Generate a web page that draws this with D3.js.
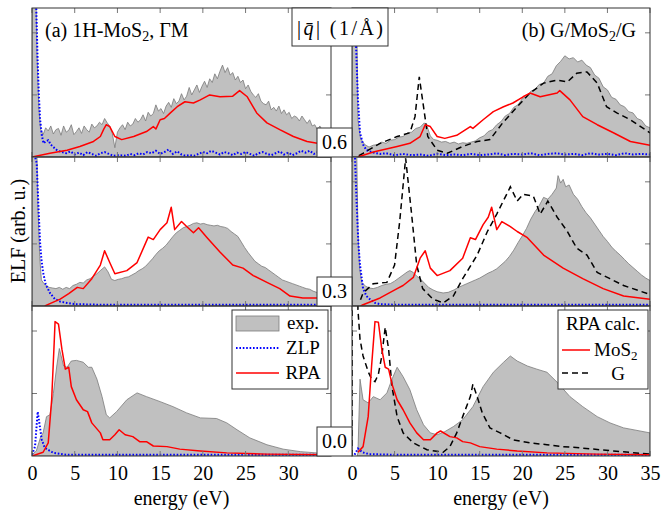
<!DOCTYPE html>
<html>
<head>
<meta charset="utf-8">
<script src="https://cdn.jsdelivr.net/npm/d3@7"></script>
<style>
  body { margin: 0; background: #fff; }
  svg text { font-family: "Liberation Serif", "Times New Roman", serif; }
</style>
</head>
<body>
<svg id="chart" width="663" height="513"></svg>
<script>
// ELF spectra, [energy (eV), ELF (arb. u.)]
// (a) 1H-MoS2 column
const expA06 = [[0,3],[0.4,3],[0.6,1.6],[0.8,0.8],[1.0,0.45],[1.3,0.36],[1.6,0.47],[1.9,0.42],[2.2,0.5],[2.5,0.37],[2.8,0.44],[3.1,0.46],[3.4,0.35],[3.7,0.5],[4.0,0.4],[4.3,0.43],[4.6,0.52],[4.9,0.36],[5.2,0.41],[5.5,0.47],[5.8,0.38],[6.1,0.5],[6.4,0.44],[6.7,0.4],[7.0,0.53],[7.3,0.47],[7.6,0.5],[7.9,0.56],[8.2,0.52],[8.5,0.62],[8.8,0.55],[9.1,0.5],[9.4,0.38],[9.7,0.15],[10.0,0.4],[10.3,0.47],[10.6,0.52],[10.9,0.44],[11.2,0.56],[11.5,0.5],[11.8,0.53],[12.1,0.62],[12.4,0.56],[12.7,0.6],[13.0,0.68],[13.3,0.58],[13.6,0.72],[13.9,0.66],[14.2,0.7],[14.5,0.84],[14.8,0.74],[15.1,0.78],[15.4,0.7],[15.7,0.82],[16.0,0.88],[16.3,0.8],[16.6,0.94],[16.9,0.86],[17.2,0.9],[17.5,1.02],[17.8,0.92],[18.1,0.98],[18.4,1.12],[18.7,1.0],[19.0,1.08],[19.3,1.16],[19.6,1.04],[19.9,1.14],[20.2,1.22],[20.5,1.12],[20.8,1.26],[21.1,1.2],[21.4,1.34],[21.7,1.26],[22.0,1.38],[22.3,1.48],[22.6,1.36],[22.9,1.44],[23.2,1.32],[23.5,1.36],[23.8,1.24],[24.1,1.3],[24.4,1.2],[24.7,1.24],[25.0,1.1],[25.3,1.16],[25.6,1.06],[25.9,1.0],[26.2,0.96],[26.5,1.02],[26.8,0.9],[27.1,0.86],[27.4,0.84],[27.7,0.9],[28.0,0.76],[28.3,0.8],[28.6,0.74],[28.9,0.82],[29.2,0.7],[29.5,0.76],[29.8,0.68],[30.1,0.72],[30.4,0.62],[30.7,0.66],[31.0,0.64],[31.3,0.58],[31.6,0.66],[31.9,0.6],[32.2,0.54],[32.5,0.6],[32.8,0.5],[33.1,0.52],[33.4,0.44],[33.7,0.5],[34.0,0.42],[34.3,0.46],[34.6,0.4],[35,0.44]]
const zlpA06 = [[0,2.6],[0.5,2.4],[0.65,1.6],[0.8,1.0],[0.95,0.6],[1.15,0.35],[1.35,0.22],[1.6,0.25],[1.9,0.27],[2.2,0.2],[2.5,0.16],[3.0,0.1],[3.5,0.08],[4.0,0.06],[4.5,0.09],[5.0,0.04],[5.5,0.07],[6.0,0.03],[6.5,0.08],[7.0,0.05],[7.5,0.02],[8.0,0.06],[8.5,0.08],[9.0,0.05],[9.5,0.02],[10,0.03],[11,0.02],[11.5,0.05],[12,0.03],[12.5,0.06],[13,0.04],[13.5,0.08],[14,0.06],[14.5,0.1],[15,0.05],[15.5,0.08],[16,0.12],[16.5,0.05],[17,0.09],[17.5,0.04],[18,0.02],[18.5,0.03],[19,0.02],[19.5,0.05],[20,0.08],[20.5,0.06],[21,0.1],[21.5,0.07],[22,0.04],[22.5,0.08],[23,0.06],[23.5,0.03],[24,0.07],[24.5,0.05],[25,0.08],[25.5,0.05],[26,0.02],[26.5,0.06],[27,0.08],[27.5,0.05],[28,0.03],[28.5,0.06],[29,0.09],[29.5,0.04],[30,0.07],[30.5,0.03],[31,0.06],[31.5,0.1],[32,0.07],[32.5,0.1],[33,0.05],[33.5,0.08],[34,0.1],[34.5,0.06],[35,0.05]]
const rpaA06 = [[0,0],[2.1,0.06],[4.1,0.11],[5.6,0.17],[7.2,0.25],[8.0,0.33],[8.4,0.45],[8.7,0.52],[9.1,0.49],[9.7,0.33],[10.5,0.28],[11.9,0.33],[13.4,0.41],[14.2,0.49],[14.5,0.45],[15.0,0.6],[15.5,0.62],[16.2,0.71],[17.0,0.81],[17.9,0.89],[18.9,0.87],[19.7,0.92],[20.8,1.0],[22.0,0.97],[23.5,0.98],[24.3,1.07],[25.2,0.97],[26.3,0.71],[27.5,0.55],[29.0,0.44],[30.6,0.33],[32.2,0.25],[33.4,0.22],[35,0.2]]
const expA03 = [[0,3],[0.5,3],[0.7,1.6],[0.9,0.8],[1.1,0.42],[1.4,0.36],[1.7,0.33],[2.0,0.3],[2.4,0.29],[2.8,0.28],[3.2,0.3],[3.6,0.27],[4.0,0.3],[4.4,0.28],[4.8,0.33],[5.2,0.35],[5.6,0.38],[6.0,0.37],[6.4,0.42],[6.8,0.44],[7.2,0.48],[7.6,0.52],[8.0,0.57],[8.5,0.63],[8.9,0.55],[9.3,0.43],[9.7,0.41],[10.1,0.43],[10.5,0.44],[10.9,0.46],[11.3,0.47],[11.7,0.5],[12.1,0.53],[12.5,0.57],[12.9,0.6],[13.3,0.64],[13.7,0.7],[14.1,0.76],[14.5,0.83],[14.9,0.89],[15.3,0.93],[15.7,0.98],[16.1,1.05],[16.5,1.12],[16.9,1.18],[17.3,1.22],[17.7,1.26],[18.1,1.28],[18.5,1.3],[18.9,1.33],[19.3,1.34],[19.7,1.32],[20.1,1.33],[20.5,1.31],[20.9,1.3],[21.3,1.29],[21.7,1.3],[22.1,1.28],[22.5,1.27],[22.9,1.25],[23.3,1.2],[23.7,1.16],[24.1,1.12],[24.5,1.03],[24.9,0.94],[25.3,0.86],[25.7,0.79],[26.1,0.72],[26.5,0.68],[26.9,0.64],[27.3,0.62],[27.7,0.58],[28.1,0.54],[28.5,0.5],[28.9,0.46],[29.3,0.42],[29.7,0.4],[30.1,0.38],[30.5,0.36],[30.9,0.34],[31.3,0.32],[31.7,0.3],[32.1,0.28],[32.5,0.27],[32.9,0.24],[33.3,0.22],[33.7,0.2],[34.1,0.2],[34.5,0.18],[35,0.18]]
const zlpA03 = [[0,2.6],[0.55,2.3],[0.74,1.64],[0.94,1.03],[1.1,0.75],[1.3,0.54],[1.6,0.35],[2.1,0.21],[2.7,0.11],[3.3,0.07],[4.1,0.05],[5,0.03],[8,0.02],[15,0.02],[35,0.02]]
const rpaA03 = [[1.5,0],[2.3,0.05],[3.3,0.11],[4.3,0.2],[5.3,0.3],[6.0,0.28],[7.0,0.44],[8.0,0.66],[8.5,0.89],[9.1,0.7],[9.7,0.52],[11.1,0.57],[12.3,0.7],[13.6,1.11],[14.2,1.07],[15.0,1.23],[15.8,1.34],[16.3,1.59],[16.7,1.23],[17.5,1.36],[18.1,1.28],[18.9,1.18],[19.5,1.26],[20.5,1.1],[22.0,0.87],[23.5,0.66],[24.7,0.61],[25.9,0.49],[27.5,0.38],[29.0,0.28],[30.2,0.16],[31.7,0.13],[35,0.13]]
const expA00 = [[0,0.02],[0.5,0.08],[1.0,0.3],[1.3,0.37],[1.7,0.63],[2.1,0.66],[2.5,1.0],[2.9,1.44],[3.2,1.72],[3.7,1.44],[4.1,1.42],[4.6,1.52],[5.2,1.53],[6.0,1.5],[6.6,1.42],[7.0,1.42],[7.6,1.23],[8.2,0.95],[8.7,0.66],[9.1,0.61],[9.9,0.71],[11.1,0.9],[12.3,1.01],[13.4,0.95],[15.0,0.87],[16.5,0.79],[18.1,0.69],[19.7,0.61],[21.6,0.6],[22.8,0.53],[24.0,0.42],[25.5,0.29],[27.5,0.18],[29.4,0.11],[31.4,0.07],[33.3,0.05],[35,0.04]]
const zlpA00 = [[0,0.02],[0.35,0.15],[0.67,0.71],[0.86,0.53],[1.14,0.26],[1.5,0.13],[2.5,0.05],[4,0.02],[35,0.02]]
const rpaA00 = [[0,0],[1.3,0.06],[1.9,0.21],[2.3,0.9],[2.6,1.82],[2.7,2.15],[3.1,2.11],[3.5,1.71],[3.9,1.39],[4.3,1.42],[4.6,1.11],[5.2,0.9],[6.0,0.74],[6.5,0.71],[7.0,0.53],[8.0,0.37],[8.3,0.26],[9.1,0.26],[9.7,0.34],[10.2,0.42],[10.9,0.34],[11.8,0.31],[12.6,0.23],[13.4,0.23],[14.2,0.16],[15.8,0.15],[17.3,0.11],[19.7,0.08],[22.8,0.05],[27.5,0.03],[35,0.02]]

// (b) G/MoS2/G column
const expB06 = [[0,0],[0.1,3],[0.5,3],[0.7,0.6],[1.0,0.3],[1.5,0.2],[2.0,0.16],[2.5,0.19],[3.0,0.2],[3.5,0.24],[4.0,0.22],[4.5,0.27],[5.0,0.28],[5.5,0.32],[6.0,0.33],[6.5,0.39],[7.0,0.4],[7.5,0.46],[8.0,0.48],[8.5,0.55],[8.8,0.5],[9.2,0.34],[9.6,0.28],[10.0,0.27],[10.5,0.24],[11.0,0.25],[11.5,0.22],[12.0,0.24],[12.5,0.21],[13.0,0.23],[13.5,0.22],[14.0,0.24],[14.5,0.26],[15.0,0.31],[15.5,0.34],[16.0,0.41],[16.5,0.44],[17.0,0.52],[17.5,0.57],[18.0,0.66],[18.5,0.7],[19.0,0.8],[19.5,0.84],[20.0,0.94],[20.5,0.97],[21.0,1.06],[21.5,1.09],[22.0,1.17],[22.5,1.19],[23.0,1.3],[23.5,1.34],[24.0,1.47],[24.5,1.54],[25.0,1.63],[25.5,1.58],[26.0,1.6],[26.5,1.53],[27.0,1.56],[27.5,1.48],[28.0,1.44],[28.5,1.32],[29.0,1.27],[29.5,1.13],[30.0,1.08],[30.5,0.96],[31.0,0.93],[31.5,0.84],[32.0,0.81],[32.5,0.73],[33.0,0.71],[33.5,0.62],[34.0,0.59],[34.5,0.5],[35,0.47]]
const zlpB06 = [[0,2.6],[0.35,2.3],[0.55,1.5],[0.7,0.92],[0.94,0.39],[1.3,0.2],[1.7,0.11],[2.5,0.07],[3.3,0.05],[4,0.06],[5,0.03],[6,0.05],[7,0.03],[8,0.04],[9,0.02],[10,0.05],[11,0.03],[12,0.04],[13,0.03],[14,0.05],[15,0.03],[16,0.04],[17,0.06],[18,0.03],[19,0.05],[20,0.04],[21,0.06],[22,0.03],[23,0.05],[24,0.06],[25,0.04],[26,0.05],[27,0.03],[28,0.06],[29,0.04],[30,0.05],[31,0.03],[32,0.06],[33,0.04],[34,0.05],[35,0.04]]
const rpaB06 = [[0.7,0],[2.5,0.08],[5.3,0.17],[6.8,0.22],[8.0,0.33],[8.6,0.52],[9.2,0.49],[10.0,0.33],[10.9,0.3],[12.3,0.35],[13.9,0.49],[14.2,0.46],[15.4,0.6],[16.6,0.73],[17.8,0.81],[18.9,0.87],[20.1,0.97],[20.9,1.03],[22.1,0.97],[24.1,1.03],[24.4,1.07],[25.6,0.92],[27.1,0.65],[28.8,0.52],[30.7,0.39],[32.7,0.25],[35,0.19]]
const gB06 = [[0.8,0.02],[1.3,0.06],[3.3,0.22],[5.3,0.33],[6.8,0.39],[7.4,0.65],[7.9,1.29],[8.4,0.81],[8.9,0.33],[10.0,0.11],[11.2,0.06],[13.0,0.17],[14.7,0.25],[16.2,0.28],[17.7,0.55],[19.4,0.81],[20.9,1.03],[22.5,1.19],[24.1,1.24],[25.3,1.21],[26.4,1.35],[27.6,1.37],[28.8,1.19],[29.9,0.81],[31.1,0.71],[32.7,0.6],[35,0.39]]
const expB03 = [[0,0],[0.1,3],[0.5,3],[0.7,1.2],[0.9,0.6],[1.14,0.38],[1.6,0.32],[2.0,0.29],[2.5,0.28],[3.0,0.3],[3.5,0.33],[4.0,0.35],[4.5,0.36],[5.0,0.4],[5.5,0.45],[6.0,0.5],[6.5,0.55],[6.8,0.57],[7.2,0.54],[7.6,0.48],[8.0,0.44],[8.5,0.37],[9.0,0.3],[9.5,0.26],[10.0,0.23],[10.7,0.21],[11.3,0.22],[12.0,0.26],[12.5,0.3],[13.0,0.33],[13.5,0.36],[14.0,0.39],[14.5,0.42],[15.0,0.45],[15.5,0.49],[16.0,0.53],[16.5,0.56],[17.0,0.6],[17.5,0.66],[18.0,0.72],[18.5,0.8],[19.0,0.9],[19.5,1.02],[20.0,1.13],[20.5,1.25],[21.0,1.4],[21.5,1.52],[22.0,1.62],[22.5,1.75],[23.0,1.72],[23.5,1.8],[24.0,1.9],[24.2,2.1],[24.5,1.98],[24.8,2.04],[25.1,1.92],[25.5,1.95],[26.0,1.8],[26.5,1.72],[27.0,1.6],[27.5,1.5],[28.0,1.42],[28.5,1.32],[29.0,1.22],[29.5,1.12],[30.0,1.04],[30.5,0.95],[31.0,0.88],[31.5,0.82],[32.0,0.75],[32.5,0.68],[33.0,0.62],[33.5,0.56],[34.0,0.5],[34.5,0.45],[35,0.41]]
const zlpB03 = [[0,2.6],[0.35,2.4],[0.55,1.64],[0.75,1.0],[0.94,0.66],[1.3,0.28],[1.7,0.16],[2.1,0.11],[2.7,0.05],[3.3,0.03],[5,0.02],[35,0.02]]
const rpaB03 = [[1.0,0],[1.3,0.02],[3.3,0.13],[5.3,0.28],[6.0,0.33],[7.2,0.46],[8.0,0.77],[8.6,0.89],[9.2,0.61],[10.0,0.49],[11.5,0.57],[13.0,0.77],[13.9,1.1],[14.5,1.07],[15.4,1.31],[16.0,1.43],[16.4,1.59],[17.0,1.23],[17.6,1.36],[18.6,1.28],[19.4,1.2],[20.6,1.1],[22.5,0.82],[24.8,0.61],[27.1,0.44],[29.5,0.28],[31.9,0.16],[35,0.11]]
const gB03 = [[1.0,0.1],[1.3,0.21],[2.5,0.36],[4.1,0.38],[5.0,0.66],[5.6,1.36],[6.3,2.38],[7.0,1.48],[7.6,0.66],[8.3,0.28],[9.5,0.11],[10.7,0.05],[11.9,0.16],[13.0,0.44],[14.7,0.82],[15.9,1.2],[17.0,1.48],[18.6,1.92],[19.4,1.69],[20.1,1.8],[21.3,1.77],[22.1,1.48],[23.0,1.69],[24.1,1.43],[25.3,1.2],[26.4,0.93],[27.6,0.82],[28.8,0.54],[30.3,0.44],[31.9,0.33],[34.7,0.2],[35,0.19]]
const expB00 = [[0.6,0],[0.7,0.05],[0.94,1.23],[1.3,0.9],[1.9,0.85],[2.5,0.95],[3.3,0.9],[4.1,1.01],[4.7,1.23],[5.3,1.42],[6.0,1.27],[6.8,1.06],[7.6,0.74],[8.4,0.5],[9.2,0.37],[10.0,0.34],[10.9,0.39],[11.9,0.47],[13.0,0.58],[14.2,0.79],[15.4,1.11],[16.6,1.34],[17.8,1.5],[18.6,1.6],[19.4,1.52],[20.6,1.44],[21.7,1.39],[22.9,1.34],[24.1,1.18],[25.6,0.95],[27.1,0.79],[28.8,0.63],[30.3,0.53],[31.9,0.45],[35,0.37]]
const zlpB00 = [[0.3,0.02],[0.7,0.12],[1.2,0.06],[2,0.03],[5,0.02],[35,0.02]]
const rpaB00 = [[0.7,0.06],[1.3,0.15],[1.9,0.63],[2.3,1.44],[2.7,2.15],[3.1,2.14],[3.5,1.71],[3.9,1.42],[4.3,1.39],[4.7,1.15],[5.3,0.9],[6.0,0.74],[6.8,0.53],[7.6,0.37],[8.4,0.26],[9.2,0.26],[10.0,0.37],[10.4,0.4],[11.5,0.31],[12.3,0.29],[13.0,0.23],[13.9,0.21],[15.0,0.15],[17.0,0.11],[19.4,0.08],[22.9,0.05],[28.8,0.03],[35,0.02]]
const gB00 = [[0,0],[0.05,6],[0.3,6],[0.7,2.34],[0.94,1.87],[1.3,1.6],[1.9,1.35],[2.3,1.23],[2.7,1.19],[3.1,1.31],[3.5,1.6],[3.9,2.06],[4.3,1.71],[4.7,1.11],[5.3,0.63],[6.0,0.37],[7.2,0.21],[8.8,0.1],[10.7,0.06],[11.5,0.15],[12.3,0.37],[13.0,0.63],[13.9,0.95],[14.2,1.15],[14.7,0.95],[15.3,0.69],[16.2,0.45],[17.4,0.37],[18.9,0.26],[20.9,0.21],[22.9,0.18],[24.8,0.15],[26.8,0.13],[30.7,0.08],[35,0.03]]

const energyTicks = [0, 5, 10, 15, 20, 25, 30, 35]
const elfTicks = [1, 2]
const qLabels = ["0.6", "0.3", "0.0"]

const panels = [
  {col: 0, row: 0, exp: expA06, zlp: zlpA06, rpa: rpaA06},
  {col: 0, row: 1, exp: expA03, zlp: zlpA03, rpa: rpaA03},
  {col: 0, row: 2, exp: expA00, zlp: zlpA00, rpa: rpaA00},
  {col: 1, row: 0, exp: expB06, zlp: zlpB06, rpa: rpaB06, g: gB06},
  {col: 1, row: 1, exp: expB03, zlp: zlpB03, rpa: rpaB03, g: gB03},
  {col: 1, row: 2, exp: expB00, zlp: zlpB00, rpa: rpaB00, g: gB00}
]

const cols = [{x0: 32, x1: 331}, {x0: 352, x1: 650}]
const rows = [{y0: 8, y1: 157}, {y0: 157, y1: 306}, {y0: 306, y1: 456}]
const frameColor = "#333"
const tickColor = "#777"
const expFill = "#c0c0c0", expStroke = "#7a7a7a"
const fs = 20      // axis labels, titles
const fsLeg = 19   // legends

const svg = d3.select("#chart")
const defs = svg.append("defs")

const xScales = cols.map(c => d3.scaleLinear().domain([0, 35]).range([c.x0, c.x1]))
const yScales = rows.map(r => d3.scaleLinear().domain([0, 2.4]).range([r.y1, r.y0]))

panels.forEach((p, i) => {
  const x = xScales[p.col], y = yScales[p.row]
  const c = cols[p.col], r = rows[p.row]
  defs.append("clipPath").attr("id", "clip" + i)
    .append("rect").attr("x", c.x0).attr("y", r.y0).attr("width", c.x1 - c.x0).attr("height", r.y1 - r.y0)

  const g = svg.append("g").attr("clip-path", `url(#clip${i})`)
  const area = d3.area().x(d => x(d[0])).y0(y(0)).y1(d => y(d[1]))
  const line = d3.line().x(d => x(d[0])).y(d => y(d[1]))

  g.append("path").datum(p.exp).attr("d", area)
    .attr("fill", expFill).attr("stroke", expStroke).attr("stroke-width", 0.8)
  g.append("path").datum(p.zlp).attr("d", line)
    .attr("fill", "none").attr("stroke", "#0000ff").attr("stroke-width", 2)
    .attr("stroke-dasharray", "1.6,1.8")
  if (p.g) g.append("path").datum(p.g).attr("d", line)
    .attr("fill", "none").attr("stroke", "#000").attr("stroke-width", 1.5)
    .attr("stroke-dasharray", "6,4")
  g.append("path").datum(p.rpa).attr("d", line)
    .attr("fill", "none").attr("stroke", "#ff0000").attr("stroke-width", 1.5)
    .attr("stroke-linejoin", "round")

  // inward ticks on all four sides
  const t = svg.append("g").attr("stroke", tickColor).attr("stroke-width", 1)
  energyTicks.forEach(e => {
    t.append("line").attr("x1", x(e)).attr("x2", x(e)).attr("y1", r.y1).attr("y2", r.y1 - 5)
    t.append("line").attr("x1", x(e)).attr("x2", x(e)).attr("y1", r.y0).attr("y2", r.y0 + 5)
  })
  elfTicks.forEach(v => {
    t.append("line").attr("x1", c.x0).attr("x2", c.x0 + 5).attr("y1", y(v)).attr("y2", y(v))
    t.append("line").attr("x1", c.x1).attr("x2", c.x1 - 5).attr("y1", y(v)).attr("y2", y(v))
  })

  svg.append("rect").attr("x", c.x0).attr("y", r.y0).attr("width", c.x1 - c.x0).attr("height", r.y1 - r.y0)
    .attr("fill", "none").attr("stroke", frameColor).attr("stroke-width", 1)
})

// bottom axes
xScales.forEach((x, ci) => {
  const ticks = ci === 0 ? energyTicks.slice(0, -1) : energyTicks
  svg.append("g").attr("transform", `translate(0,${rows[2].y1})`)
    .call(d3.axisBottom(x).tickValues(ticks).tickSize(0).tickPadding(10).tickFormat(d3.format("d")))
    .call(g => g.select(".domain").remove())
    .call(g => g.selectAll("text").attr("font-size", fs).attr("fill", "#000"))
  const c = cols[ci]
  svg.append("text").attr("x", (c.x0 + c.x1) / 2).attr("y", 505).attr("text-anchor", "middle")
    .attr("font-size", fs).text("energy (eV)")
})

// y label
svg.append("text").attr("transform", "translate(25,231) rotate(-90)").attr("text-anchor", "middle")
  .attr("font-size", fs).text("ELF (arb. u.)")

// panel titles
const ta = svg.append("text").attr("x", 45).attr("y", 37).attr("font-size", fs)
ta.append("tspan").text("(a) 1H-MoS")
ta.append("tspan").attr("dy", 4).attr("font-size", 14).text("2")
ta.append("tspan").attr("dy", -4).text(", ΓM")
const tb = svg.append("text").attr("x", 636).attr("y", 37).attr("font-size", fs).attr("text-anchor", "end")
tb.append("tspan").text("(b) G/MoS")
tb.append("tspan").attr("dy", 4).attr("font-size", 14).text("2")
tb.append("tspan").attr("dy", -4).text("/G")

// q box
svg.append("rect").attr("x", 292).attr("y", 8).attr("width", 96).attr("height", 38)
  .attr("fill", "#fff").attr("stroke", frameColor)
const tq = svg.append("text").attr("x", 340).attr("y", 35).attr("font-size", fs).attr("text-anchor", "middle")
  .attr("textLength", 86).attr("lengthAdjust", "spacing")
tq.append("tspan").text("|")
tq.append("tspan").attr("font-style", "italic").text("q\u0304")
tq.append("tspan").text("| (1/Å)")

// q value boxes
qLabels.forEach((q, i) => {
  const r = rows[i]
  svg.append("rect").attr("x", 317).attr("y", r.y1 - 29).attr("width", 35).attr("height", 29)
    .attr("fill", "#fff").attr("stroke", frameColor)
  svg.append("text").attr("x", 334.5).attr("y", r.y1 - 8).attr("text-anchor", "middle")
    .attr("font-size", fs).text(q)
})

// legend (a)
const la = svg.append("g")
la.append("rect").attr("x", 232).attr("y", 310).attr("width", 96).attr("height", 79)
  .attr("fill", "#fff").attr("stroke", frameColor)
la.append("rect").attr("x", 236).attr("y", 316).attr("width", 43).attr("height", 15)
  .attr("fill", expFill).attr("stroke", expStroke).attr("stroke-width", 0.8)
la.append("line").attr("x1", 236).attr("x2", 279).attr("y1", 348).attr("y2", 348)
  .attr("stroke", "#0000ff").attr("stroke-width", 2).attr("stroke-dasharray", "1.6,1.8")
la.append("line").attr("x1", 236).attr("x2", 279).attr("y1", 373).attr("y2", 373)
  .attr("stroke", "#ff0000").attr("stroke-width", 1.5)
;[["exp.", 329], ["ZLP", 354], ["RPA", 379]].forEach(([s, yy]) =>
  la.append("text").attr("x", 303).attr("y", yy).attr("text-anchor", "middle").attr("font-size", fsLeg).text(s))

// legend (b)
const lb = svg.append("g")
lb.append("rect").attr("x", 558).attr("y", 310).attr("width", 90).attr("height", 79)
  .attr("fill", "#fff").attr("stroke", frameColor)
lb.append("text").attr("x", 603).attr("y", 330).attr("text-anchor", "middle").attr("font-size", fsLeg).text("RPA calc.")
lb.append("line").attr("x1", 562).attr("x2", 590).attr("y1", 350).attr("y2", 350)
  .attr("stroke", "#ff0000").attr("stroke-width", 1.5)
lb.append("line").attr("x1", 562).attr("x2", 590).attr("y1", 373).attr("y2", 373)
  .attr("stroke", "#000").attr("stroke-width", 1.5).attr("stroke-dasharray", "6,4")
const tm = lb.append("text").attr("x", 594).attr("y", 356).attr("font-size", fsLeg)
tm.append("tspan").text("MoS")
tm.append("tspan").attr("dy", 4).attr("font-size", 13).text("2")
lb.append("text").attr("x", 618).attr("y", 380).attr("text-anchor", "middle").attr("font-size", fsLeg).text("G")
</script>
</body>
</html>
